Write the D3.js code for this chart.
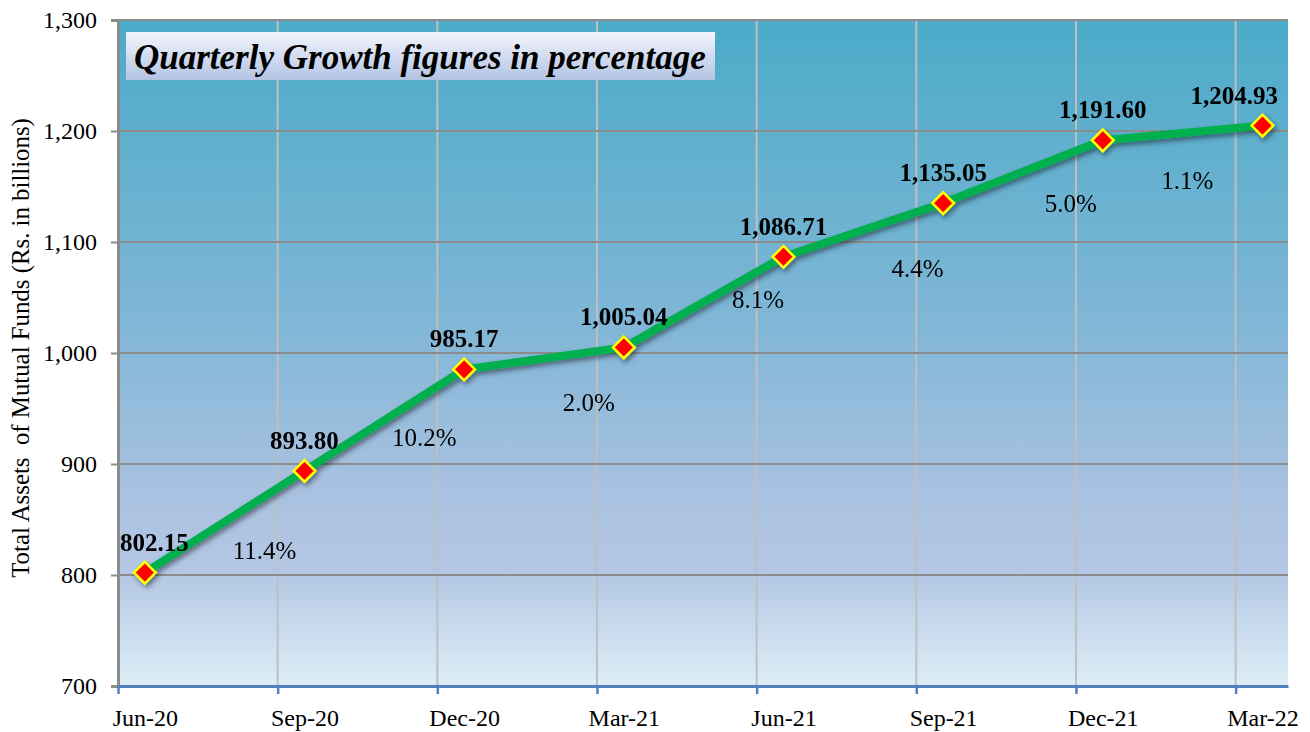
<!DOCTYPE html>
<html>
<head>
<meta charset="utf-8">
<script src="https://cdn.jsdelivr.net/npm/d3@7"></script>
<style>
  body { margin: 0; background: #fff; }
  text { font-family: "Liberation Serif", "Times New Roman", serif; }
</style>
</head>
<body>
<div id="chart"></div>
<script>
// quarters on the x axis
var quarters = ["Jun-20", "Sep-20", "Dec-20", "Mar-21", "Jun-21", "Sep-21", "Dec-21", "Mar-22"];
// total assets of mutual funds (Rs. in billions)
var assets = [802.15, 893.80, 985.17, 1005.04, 1086.71, 1135.05, 1191.60, 1204.93];
// quarter on quarter growth (%)
var growth = [11.4, 10.2, 2.0, 8.1, 4.4, 5.0, 1.1];
// y axis ticks
var yTicks = [700, 800, 900, 1000, 1100, 1200, 1300];

// where the growth text boxes sit (quarter index, value units)
var growthPos = [[0.75, 822], [1.75, 924], [2.78, 956], [3.84, 1048], [4.84, 1076], [5.80, 1135], [6.53, 1156]];

var W = 1310, H = 732;
var margin = {top: 20, right: 22, bottom: 46, left: 118};
var width = W - margin.left - margin.right;
var height = H - margin.top - margin.bottom;

var svg = d3.select("#chart").append("svg")
    .attr("width", W)
    .attr("height", H);

var defs = svg.append("defs");

var bg = defs.append("linearGradient").attr("id", "bg")
    .attr("x1", 0).attr("y1", 0).attr("x2", 0).attr("y2", 1);
bg.append("stop").attr("offset", "0%").attr("stop-color", "#4aabc8");
bg.append("stop").attr("offset", "45%").attr("stop-color", "#80b6d6");
bg.append("stop").attr("offset", "70%").attr("stop-color", "#a8c1e0");
bg.append("stop").attr("offset", "83%").attr("stop-color", "#b3c7e4");
bg.append("stop").attr("offset", "100%").attr("stop-color", "#ddeef6");

var tg = defs.append("linearGradient").attr("id", "titlebg")
    .attr("x1", 0).attr("y1", 0).attr("x2", 0).attr("y2", 1);
tg.append("stop").attr("offset", "0%").attr("stop-color", "#f4f5fc");
tg.append("stop").attr("offset", "100%").attr("stop-color", "#b2c4e3");

var shadow = defs.append("filter").attr("id", "shadow")
    .attr("x", "-20%").attr("y", "-20%").attr("width", "140%").attr("height", "140%");
shadow.append("feDropShadow")
    .attr("dx", 2).attr("dy", 3).attr("stdDeviation", 2.5)
    .attr("flood-color", "#000").attr("flood-opacity", 0.45);

var g = svg.append("g")
    .attr("transform", "translate(" + margin.left + "," + margin.top + ")");

// scales
var x = d3.scaleLinear()
    .domain([-0.168, 7.16])
    .range([0, width]);
var y = d3.scaleLinear()
    .domain([700, 1300])
    .range([height, 0]);

var gridX = d3.range(0, 8).map(function(k) { return k - 0.168; });

// plot area
g.append("rect")
    .attr("width", width)
    .attr("height", height)
    .attr("fill", "url(#bg)");

// vertical gridlines
g.selectAll(".vgrid")
    .data(gridX.slice(1))
    .enter().append("line")
    .attr("class", "vgrid")
    .attr("x1", function(d) { return x(d); })
    .attr("x2", function(d) { return x(d); })
    .attr("y1", 0).attr("y2", height)
    .attr("stroke", "#bfbfbf")
    .attr("stroke-width", 2);

// horizontal gridlines
g.selectAll(".hgrid")
    .data(yTicks.slice(1))
    .enter().append("line")
    .attr("class", "hgrid")
    .attr("x1", 0).attr("x2", width)
    .attr("y1", function(d) { return y(d); })
    .attr("y2", function(d) { return y(d); })
    .attr("stroke", "#8c8c8c")
    .attr("stroke-width", 2);

// y axis
var yAxis = g.append("g")
    .call(d3.axisLeft(y).tickValues(yTicks).tickFormat(d3.format(",")).tickSize(7).tickPadding(14));
yAxis.select(".domain").attr("stroke", "#8c8c8c").attr("stroke-width", 3);
yAxis.selectAll(".tick line").attr("stroke", "#8c8c8c").attr("stroke-width", 2);
yAxis.selectAll(".tick text")
    .attr("font-size", 24)
    .attr("fill", "#000");

// x axis: tick marks on the gridlines
var xAxis = g.append("g")
    .attr("transform", "translate(0," + height + ")")
    .call(d3.axisBottom(x).tickValues(gridX).tickFormat("").tickSize(8).tickSizeOuter(0));
xAxis.select(".domain").attr("stroke", "#4f81bd").attr("stroke-width", 3);
xAxis.selectAll(".tick line").attr("stroke", "#4f81bd").attr("stroke-width", 2.5);

// x axis labels under the points
var xLabels = g.append("g")
    .attr("transform", "translate(0," + height + ")")
    .call(d3.axisBottom(x).tickValues(d3.range(quarters.length))
        .tickFormat(function(i) { return quarters[i]; }).tickSize(0).tickPadding(23));
xLabels.select(".domain").remove();
xLabels.selectAll(".tick text")
    .attr("font-size", 24)
    .attr("fill", "#000");

// y axis title, sized to run from about y=118 to y=578
var yTitle = svg.append("text")
    .attr("transform", "translate(29,348) rotate(-90)")
    .attr("text-anchor", "middle")
    .attr("font-size", 22)
    .attr("fill", "#000")
    .style("white-space", "pre")
    .text("Total Assets  of Mutual Funds (Rs. in billions)");
var tl = yTitle.node().getComputedTextLength();
if (tl > 0) yTitle.attr("font-size", 22 * 460 / tl);

// title box
g.append("rect")
    .attr("x", 8).attr("y", 12)
    .attr("width", 589).attr("height", 48)
    .attr("fill", "url(#titlebg)");
g.append("text")
    .attr("x", 16).attr("y", 49)
    .attr("font-size", 35)
    .attr("font-weight", "bold")
    .attr("font-style", "italic")
    .attr("fill", "#000")
    .text("Quarterly Growth figures in percentage");

// line
var line = d3.line()
    .x(function(d, i) { return x(i); })
    .y(function(d) { return y(d); });

var series = g.append("g").attr("filter", "url(#shadow)");
series.append("path")
    .datum(assets)
    .attr("d", line)
    .attr("fill", "none")
    .attr("stroke", "#00b050")
    .attr("stroke-width", 8)
    .attr("stroke-linejoin", "round");

var diamond = d3.symbol().type(d3.symbolDiamond2).size(300);
series.selectAll(".pt")
    .data(assets)
    .enter().append("path")
    .attr("class", "pt")
    .attr("transform", function(d, i) { return "translate(" + x(i) + "," + y(d) + ")"; })
    .attr("d", diamond)
    .attr("fill", "#ff0000")
    .attr("stroke", "#ffff00")
    .attr("stroke-width", 2.5);

// value labels, kept inside the plot area
var fmt = d3.format(",.2f");
g.selectAll(".vlab")
    .data(assets)
    .enter().append("text")
    .attr("class", "vlab")
    .attr("x", function(d, i) { return x(i); })
    .attr("y", function(d) { return y(d) - 22; })
    .attr("text-anchor", "middle")
    .attr("font-size", 25)
    .attr("font-weight", "bold")
    .attr("fill", "#000")
    .text(function(d) { return fmt(d); })
    .each(function() {
        var b = this.getBBox();
        if (b.x < 2) d3.select(this).attr("x", +d3.select(this).attr("x") + (2 - b.x));
        if (b.x + b.width > width - 10) d3.select(this).attr("x", +d3.select(this).attr("x") - (b.x + b.width - width + 10));
    });

// growth labels
g.selectAll(".glab")
    .data(growth)
    .enter().append("text")
    .attr("class", "glab")
    .attr("x", function(d, i) { return x(growthPos[i][0]); })
    .attr("y", function(d, i) { return y(growthPos[i][1]); })
    .attr("dy", "0.35em")
    .attr("text-anchor", "middle")
    .attr("font-size", 25)
    .attr("fill", "#000")
    .text(function(d) { return d.toFixed(1) + "%"; });
</script>
</body>
</html>
